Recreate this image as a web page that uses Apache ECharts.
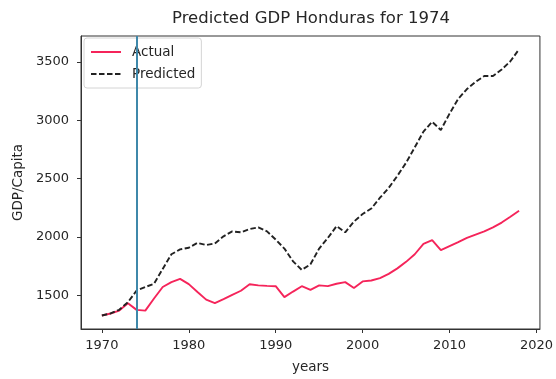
<!DOCTYPE html>
<html>
<head>
<meta charset="utf-8">
<script src="https://cdn.jsdelivr.net/npm/echarts@6/dist/echarts.min.js"></script>
<style>
  html, body { margin: 0; padding: 0; background: #fff; }
  #chart { width: 556px; height: 379px; }
</style>
</head>
<body>
<div id="chart"></div>
<script>
// GDP per capita, Honduras: observed series vs. model prediction
const years = [
  1970, 1971, 1972, 1973, 1974, 1975, 1976, 1977, 1978, 1979,
  1980, 1981, 1982, 1983, 1984, 1985, 1986, 1987, 1988, 1989,
  1990, 1991, 1992, 1993, 1994, 1995, 1996, 1997, 1998, 1999,
  2000, 2001, 2002, 2003, 2004, 2005, 2006, 2007, 2008, 2009,
  2010, 2011, 2012, 2013, 2014, 2015, 2016, 2017, 2018
];
const actual = [
  1326, 1343, 1368, 1430, 1374, 1368, 1472, 1570, 1612, 1640,
  1595, 1528, 1462, 1432, 1466, 1503, 1538, 1594, 1584, 1580,
  1577, 1483, 1531, 1577, 1546, 1584, 1578, 1598, 1612, 1562,
  1618, 1626, 1646, 1683, 1730, 1786, 1851, 1940, 1972, 1887,
  1921, 1955, 1991, 2019, 2047, 2081, 2123, 2173, 2224
];
const predicted = [
  1326, 1343, 1375, 1440, 1540, 1570, 1598, 1725, 1851, 1893,
  1907, 1949, 1930, 1944, 2005, 2047, 2039, 2067, 2082, 2047,
  1977, 1900, 1790, 1717, 1765, 1900, 1991, 2092, 2039, 2131,
  2196, 2243, 2336, 2420, 2524, 2636, 2768, 2903, 2987, 2917,
  3057, 3184, 3268, 3329, 3380, 3380, 3436, 3506, 3610
];
const xTicks = [1970, 1980, 1990, 2000, 2010, 2020];
const yTicks = [1500, 2000, 2500, 3000, 3500];
const predictionYear = 1974;

const FONT = 'DejaVu Sans';
const TXT = '#262626';

const pair = (xs, ys) => xs.map((x, i) => [x, ys[i]]);
const plain = (v) => String(v);

const chart = echarts.init(document.getElementById('chart'), null, { renderer: 'canvas' });
chart.setOption({
  animation: false,
  backgroundColor: '#fff',
  title: {
    text: 'Predicted GDP Honduras for ' + predictionYear,
    left: 311,
    textAlign: 'center',
    top: 10,
    padding: 0,
    textStyle: { fontFamily: FONT, fontSize: 16.5, fontWeight: 'normal', color: TXT }
  },
  grid: {
    left: 81, right: 14, top: 36, bottom: 44,
    show: true, borderColor: '#333', borderWidth: 1, backgroundColor: 'transparent'
  },
  legend: {
    orient: 'vertical',
    left: 84, top: 38,
    itemWidth: 30, itemHeight: 14, itemGap: 8,
    padding: [7, 6, 7, 6],
    backgroundColor: 'rgba(255,255,255,0.85)',
    borderColor: '#d4d4d4', borderWidth: 1, borderRadius: 3,
    itemStyle: { color: 'transparent', borderWidth: 0, opacity: 0 },
    textStyle: { fontFamily: FONT, fontSize: 13.5, color: TXT, padding: [0, 0, 0, 6] },
    data: ['Actual', 'Predicted']
  },
  xAxis: {
    type: 'value',
    min: 1967.6, max: 2020.4,
    name: 'years', nameLocation: 'middle', nameGap: 31,
    nameTextStyle: { fontFamily: FONT, fontSize: 13.5, color: TXT },
    axisLine: { show: true, lineStyle: { color: '#333', width: 1 } },
    axisTick: { show: true, length: 4, customValues: xTicks, lineStyle: { color: '#333' } },
    axisLabel: { customValues: xTicks, formatter: plain, margin: 10, fontFamily: FONT, fontSize: 13, color: TXT },
    splitLine: { show: false }
  },
  yAxis: {
    type: 'value',
    min: 1210, max: 3723,
    name: 'GDP/Capita', nameLocation: 'middle', nameGap: 53,
    nameTextStyle: { fontFamily: FONT, fontSize: 13.5, color: TXT },
    axisLine: { show: true, lineStyle: { color: '#333', width: 1 } },
    axisTick: { show: true, length: 4, customValues: yTicks, lineStyle: { color: '#333' } },
    axisLabel: { customValues: yTicks, formatter: plain, margin: 12, fontFamily: FONT, fontSize: 13, color: TXT },
    splitLine: { show: false }
  },
  series: [
    {
      name: 'Actual',
      type: 'line',
      data: pair(years, actual),
      symbol: 'none',
      lineStyle: { color: '#f5245a', width: 1.9 },
      itemStyle: { color: '#f5245a' }
    },
    {
      name: 'Predicted',
      type: 'line',
      data: pair(years, predicted),
      symbol: 'none',
      lineStyle: { color: '#222', width: 1.9, type: [5.5, 2.5] },
      itemStyle: { color: '#222' },
      markLine: {
        silent: true,
        symbol: ['none', 'none'],
        label: { show: false },
        lineStyle: { color: '#3f88aa', width: 2, type: 'solid' },
        data: [{ xAxis: predictionYear }]
      }
    }
  ]
});
</script>
</body>
</html>
